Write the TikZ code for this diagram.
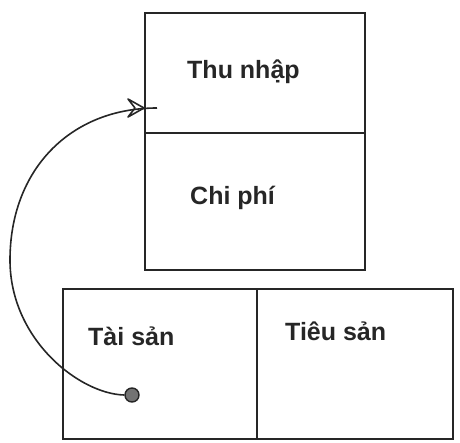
\documentclass[tikz,border=0pt]{standalone}
\usepackage{fontspec}
\setmainfont{Liberation Sans}
\usetikzlibrary{arrows.meta}
\begin{document}
\begin{tikzpicture}[x=1pt,y=-1pt,
  boxline/.style={draw=black!85,line width=2pt},
  lbl/.style={font=\fontsize{25}{27}\selectfont\bfseries,text=black!85,inner sep=0pt,anchor=base west},
  conn/.style={draw=black!85,line width=1.6pt},
  headline/.style={draw=black!85,line width=1.6pt,line join=round}]
\useasboundingbox (0,0) rectangle (460,442);
% top box
\draw[boxline] (145,13) rectangle (365,270);
\draw[boxline] (145,133) -- (365,133);
% bottom box
\draw[boxline] (63,289) rectangle (453,439);
\draw[boxline] (257,289) -- (257,439);
% labels
\node[lbl] (thu) at (187,78) {Thu nhập};
\node[lbl] (chi) at (190,204) {Chi phí};
\node[lbl] (tai) at (88,345) {Tài sản};
\node[lbl] (tieu) at (285,340) {Tiêu sản};
% connector
\node[circle,draw=black!85,fill=black!55,line width=1.4pt,minimum size=14pt,inner sep=0pt] (dot) at (132,395) {};
\coordinate (tip) at (157,108);
\coordinate (head) at (144,108);
\draw[conn] (dot.west) .. controls (80,394) and (10,340) .. (10,260)
  .. controls (10,170) and (70,108) .. (tip);
\draw[headline] ([shift={(-16,-9)}]head) -- (head) -- ([shift={(-16,9)}]head) -- ([shift={(-9,0)}]head) -- cycle;
\end{tikzpicture}
\end{document}
